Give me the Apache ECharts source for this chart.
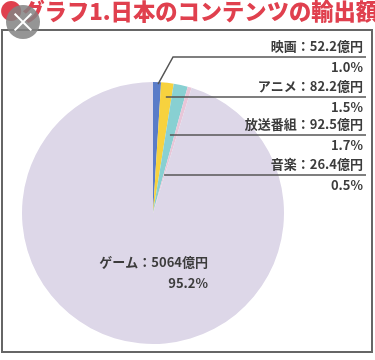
<!DOCTYPE html>
<html><head><meta charset="utf-8">
<script src="https://cdn.jsdelivr.net/npm/echarts@6/dist/echarts.min.js"></script>
<style>html,body{margin:0;padding:0;background:#fff}#c{width:375px;height:360px}</style>
</head><body><div id="c"></div>
<script>
const categories = ['映画', 'アニメ', '放送番組', '音楽', 'ゲーム'];
const valueLabels = ['52.2', '82.2', '92.5', '26.4', '5064'];
const values = [52.2, 82.2, 92.5, 26.4, 5064];
const percentLabels = ['1.0%', '1.5%', '1.7%', '0.5%', '95.2%'];
const colors = ['#5a7cc8', '#f7d23e', '#88d0d2', '#e8c6d8', '#ddd7e8'];

const CX = 153, CY = 213, R = 131;
const lineYs = [57, 97, 135, 175];
const lineT = [1.0, 0.88, 0.6, 0.3];
const FONT = '"Noto Sans CJK JP", "Noto Sans", sans-serif';

const chart = echarts.init(document.getElementById('c'), null, {renderer: 'canvas'});
const baseGraphic = [
  {type: 'text', left: 0, top: 0, z: 10, style: {text: '●グラフ1.日本のコンテンツの輸出額', fill: '#e0404e', font: '900 22.3px ' + FONT}},
  {type: 'rect', shape: {x: 2, y: 30, width: 370, height: 322}, style: {fill: 'none', stroke: '#666', lineWidth: 2}, z: 10},
  {type: 'circle', shape: {cx: 23, cy: 22, r: 17}, style: {fill: 'rgba(130,130,130,0.85)'}, z: 20},
  {type: 'text', x: 23, y: 22, z: 21, style: {text: '×', fill: '#fff', font: '28px ' + FONT, align: 'center', verticalAlign: 'middle'}}
];
chart.setOption({
  animation: false,
  backgroundColor: '#fff',
  graphic: baseGraphic,
  series: [{
    type: 'pie',
    center: [CX, CY],
    radius: [0, R],
    startAngle: 90,
    clockwise: true,
    avoidLabelOverlap: false,
    silent: true,
    itemStyle: {borderWidth: 0},
    data: categories.map((c, i) => ({
      name: c, value: values[i], itemStyle: {color: colors[i]}
    })),
    label: {
      show: true,
      position: 'outside',
      formatter: p => '{a|' + p.name + '：' + valueLabels[p.dataIndex] + '億円}\n{b|' + percentLabels[p.dataIndex] + '}',
      rich: {
        a: {fontSize: 13, fontWeight: 'bold', lineHeight: 21, color: '#3c3c3c', fontFamily: FONT, align: 'right'},
        b: {fontSize: 13, fontWeight: 'bold', lineHeight: 21, color: '#3c3c3c', fontFamily: FONT, align: 'right'}
      }
    },
    labelLine: {show: false},
    labelLayout: function (params) {
      const i = params.dataIndex;
      if (i === 4) {
        return {x: 208, y: 273, align: 'right', verticalAlign: 'middle'};
      }
      return {x: 363, y: lineYs[i], align: 'right', verticalAlign: 'middle'};
    }
  }]
});

// leader lines derived from the pie's own computed sector layout
const data = chart.getModel().getSeriesByIndex(0).getData();
const lines = [];
for (let i = 0; i < 4; i++) {
  const l = data.getItemLayout(i);
  const mid = (l.startAngle + l.endAngle) / 2;
  const dx = Math.cos(mid), dy = Math.sin(mid);
  const ly = lineYs[i];
  let pts;
  if (i === 0) {
    const sx = l.cx + l.r * lineT[i] * dx, sy = l.cy + l.r * lineT[i] * dy;
    pts = [[sx + 1, sy + 2], [sx + 16, ly], [366, ly]];
  } else {
    const t = (ly - l.cy) / (l.r * dy);
    const sx = l.cx + l.r * t * dx;
    pts = [[sx, ly], [366, ly]];
  }
  lines.push({type: 'polyline', z: 5, shape: {points: pts}, style: {stroke: '#555', lineWidth: 1.5, fill: 'none'}});
}
chart.setOption({graphic: baseGraphic.concat(lines)});
</script></body></html>
